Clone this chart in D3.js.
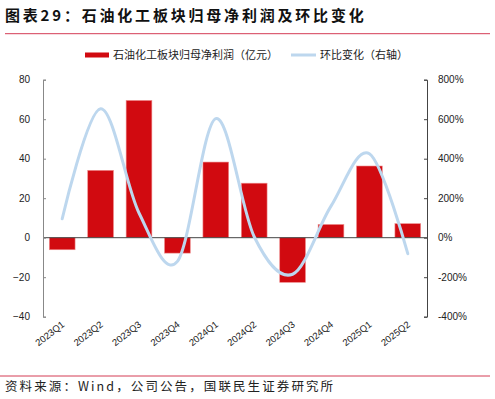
<!DOCTYPE html>
<html><head><meta charset="utf-8">
<script src="https://cdn.jsdelivr.net/npm/d3@7"></script>
<style>body{margin:0;background:#fff}svg{display:block}</style>
</head><body>
<svg id="c" width="495" height="399"></svg>
<script>
const categories = ["2023Q1","2023Q2","2023Q3","2023Q4","2024Q1","2024Q2","2024Q3","2024Q4","2025Q1","2025Q2"];
const profit = [-6.1, 34.1, 69.5, -7.8, 38.3, 27.6, -22.6, 6.7, 36.3, 7.1];
const qoq = [96, 653, 125, -120, 603, 5, -185, 160, 425, -81];
const leftTicks = [-40, -20, 0, 20, 40, 60, 80];
const rightTicks = [-400, -200, 0, 200, 400, 600, 800];

const svg = d3.select("#c");
const L = 43, R = 427, T = 79.7, B = 316.7;
const font = "'Liberation Sans', Arial, sans-serif";
const cjk = "'Noto Sans CJK SC', sans-serif";

// title
svg.append("text").attr("x", 5).attr("y", 21).attr("font-family", cjk).attr("font-weight", "bold")
  .attr("font-size", 15).attr("letter-spacing", 2.8).attr("fill", "#111").text("图表29：石油化工板块归母净利润及环比变化");
svg.append("line").attr("x1", 5).attr("x2", 490).attr("y1", 33.7).attr("y2", 33.7).attr("stroke", "#d43c55").attr("stroke-width", 1);

// legend
svg.append("rect").attr("x", 85).attr("y", 52.5).attr("width", 24).attr("height", 5).attr("fill", "#d10a10");
svg.append("text").attr("x", 113).attr("y", 59).attr("font-family", cjk).attr("font-size", 11).attr("fill", "#222").text("石油化工板块归母净利润（亿元）");
svg.append("rect").attr("x", 291).attr("y", 53.5).attr("width", 25).attr("height", 3).attr("fill", "#bdd7ee");
svg.append("text").attr("x", 320).attr("y", 59).attr("font-family", cjk).attr("font-size", 11).attr("fill", "#222").text("环比变化（右轴）");

const x = d3.scaleBand().domain(categories).range([L, R]).paddingInner(0.33).paddingOuter(0.165);
const yL = d3.scaleLinear().domain([-40, 80]).range([B, T]);
const yR = d3.scaleLinear().domain([-400, 800]).range([B, T]);
const cx = c => x(c) + x.bandwidth() / 2;

// bars
svg.append("g").selectAll("rect").data(profit).join("rect")
  .attr("x", (d, i) => x(categories[i]))
  .attr("width", x.bandwidth())
  .attr("y", d => Math.min(yL(d), yL(0)))
  .attr("height", d => Math.abs(yL(d) - yL(0)))
  .attr("fill", "#d10a10").attr("stroke", "#ee8c8c").attr("stroke-width", 0.6);

// zero line
svg.append("line").attr("x1", L).attr("x2", R).attr("y1", yL(0)).attr("y2", yL(0)).attr("stroke", "#444").attr("stroke-width", 1);

// line
const line = d3.line().x((d, i) => cx(categories[i])).y(d => yR(d)).curve(d3.curveCardinal.tension(0));
svg.append("path").datum(qoq).attr("d", line).attr("fill", "none").attr("stroke", "#bdd7ee").attr("stroke-width", 3).attr("stroke-linecap", "round");

// left axis
const gL = svg.append("g").attr("transform", `translate(${L},0)`)
  .call(d3.axisRight(yL).tickValues(leftTicks).tickSize(3).tickFormat(d3.format("d")));
gL.select(".domain").attr("stroke", "#888");
gL.selectAll(".tick line").attr("stroke", "#888");
gL.selectAll(".tick text").attr("x", -13).attr("text-anchor", "end").attr("font-family", font).attr("font-size", 10).attr("fill", "#222");

// right axis
const gR = svg.append("g").attr("transform", `translate(${R},0)`)
  .call(d3.axisLeft(yR).tickValues(rightTicks).tickSize(3).tickFormat(d => d + "%"));
gR.select(".domain").attr("stroke", "#444");
gR.selectAll(".tick line").attr("stroke", "#444");
gR.selectAll(".tick text").attr("x", 11).attr("text-anchor", "start").attr("font-family", font).attr("font-size", 10).attr("fill", "#222");

// x labels
svg.append("g").selectAll("text").data(categories).join("text")
  .attr("transform", d => `translate(${cx(d) + 3},${B + 9}) rotate(-38)`)
  .attr("text-anchor", "end").attr("font-family", font).attr("font-size", 9.5).attr("fill", "#222").text(d => d);

// bottom line + source
svg.append("line").attr("x1", 0).attr("x2", 490).attr("y1", 376).attr("y2", 376).attr("stroke", "#d43c55").attr("stroke-width", 1);
svg.append("text").attr("x", 5).attr("y", 391).attr("font-family", cjk).attr("font-size", 12.5).attr("letter-spacing", 2.1).attr("fill", "#222")
  .text("资料来源：Wind，公司公告，国联民生证券研究所");
</script>
</body></html>
